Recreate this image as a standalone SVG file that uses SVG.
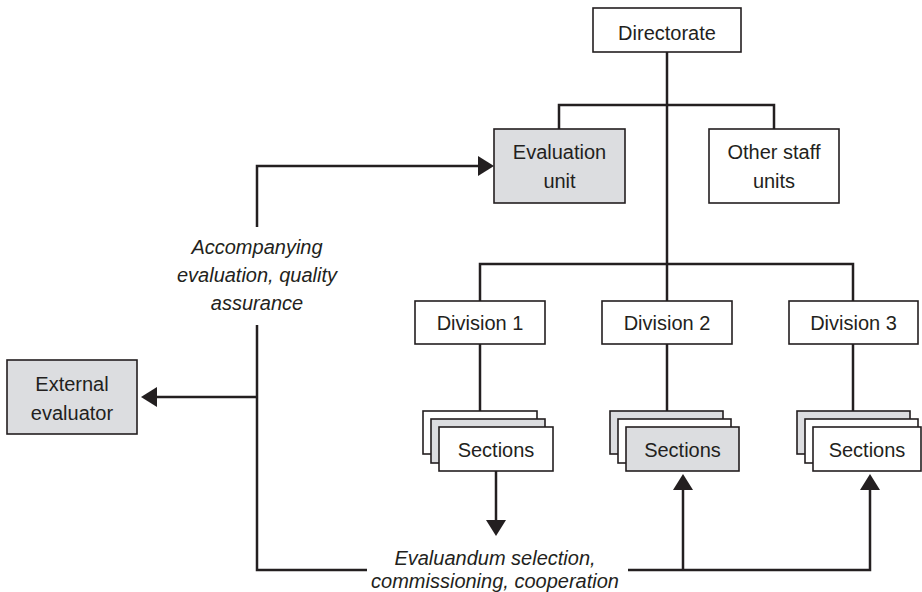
<svg xmlns="http://www.w3.org/2000/svg" width="922" height="592" viewBox="0 0 922 592">
<style>
  .box { stroke: #231f20; stroke-width: 1.6; fill: #ffffff; }
  .gray { fill: #dcdde0; }
  .lbl { font-family: "Liberation Sans", Arial, sans-serif; font-size: 20px; fill: #231f20; text-anchor: middle; }
  .it { font-style: italic; }
  .conn { fill: none; stroke: #231f20; stroke-width: 2.5; stroke-linecap: butt; stroke-linejoin: miter; }
</style>
<defs>
  <marker id="arrow" viewBox="0 0 16 20" refX="13" refY="10" markerWidth="16" markerHeight="20" markerUnits="userSpaceOnUse" orient="auto">
    <path d="M0,0 L16,10 L0,20 z" fill="#231f20"/>
  </marker>
</defs>
<rect width="922" height="592" fill="#ffffff"/>

<g id="connectors">
  <path class="conn" d="M667,52 V301"/>
  <path class="conn" d="M559,129 V105 H774 V129"/>
  <path class="conn" d="M480,301 V264 H853 V301"/>
  <path class="conn" d="M480,344 V411"/>
  <path class="conn" d="M667,344 V411"/>
  <path class="conn" d="M853,344 V411"/>
  <path class="conn" d="M367,570 H257 V325"/>
  <path class="conn" d="M257,227 V166 H491" marker-end="url(#arrow)"/>
  <path class="conn" d="M257,397 H144" marker-end="url(#arrow)"/>
  <path class="conn" d="M496,471 V533" marker-end="url(#arrow)"/>
  <path class="conn" d="M628,570 H870 V477" marker-end="url(#arrow)"/>
  <path class="conn" d="M683,570 V477" marker-end="url(#arrow)"/>
</g>

<g id="directorate">
  <rect class="box" x="593" y="8" width="148" height="44"/>
  <text class="lbl" x="667" y="40">Directorate</text>
</g>
<g id="evaluation-unit">
  <rect class="box gray" x="494" y="129" width="131" height="74"/>
  <text class="lbl" x="559.5" y="159">Evaluation</text>
  <text class="lbl" x="559.5" y="188">unit</text>
</g>
<g id="other-staff-units">
  <rect class="box" x="709" y="129" width="130" height="74"/>
  <text class="lbl" x="774" y="159">Other staff</text>
  <text class="lbl" x="774" y="188">units</text>
</g>
<g id="division-1">
  <rect class="box" x="415" y="301" width="130" height="43"/>
  <text class="lbl" x="480" y="330">Division 1</text>
</g>
<g id="division-2">
  <rect class="box" x="602" y="301" width="130" height="43"/>
  <text class="lbl" x="667" y="330">Division 2</text>
</g>
<g id="division-3">
  <rect class="box" x="789" y="301" width="129" height="43"/>
  <text class="lbl" x="853.5" y="330">Division 3</text>
</g>
<g id="sections-1">
  <rect class="box" x="423" y="411" width="114" height="43"/>
  <rect class="box gray" x="431" y="419" width="114" height="44"/>
  <rect class="box" x="439" y="427" width="114" height="44"/>
  <text class="lbl" x="496" y="457">Sections</text>
</g>
<g id="sections-2">
  <rect class="box gray" x="610" y="411" width="113" height="43"/>
  <rect class="box" x="618" y="419" width="113" height="44"/>
  <rect class="box gray" x="626" y="427" width="113" height="44"/>
  <text class="lbl" x="682.5" y="457">Sections</text>
</g>
<g id="sections-3">
  <rect class="box gray" x="797" y="411" width="113" height="43"/>
  <rect class="box" x="805" y="419" width="113" height="44"/>
  <rect class="box" x="813" y="427" width="108" height="44"/>
  <text class="lbl" x="867" y="457">Sections</text>
</g>
<g id="external-evaluator">
  <rect class="box gray" x="7" y="360" width="130" height="74"/>
  <text class="lbl" x="72" y="391">External</text>
  <text class="lbl" x="72" y="420">evaluator</text>
</g>
<g id="label-accompanying">
  <text class="lbl it" x="257" y="254">Accompanying</text>
  <text class="lbl it" x="257" y="282">evaluation, quality</text>
  <text class="lbl it" x="257" y="310">assurance</text>
</g>
<g id="label-evaluandum">
  <text class="lbl it" x="495" y="565">Evaluandum selection,</text>
  <text class="lbl it" x="495" y="588">commissioning, cooperation</text>
</g>
</svg>
